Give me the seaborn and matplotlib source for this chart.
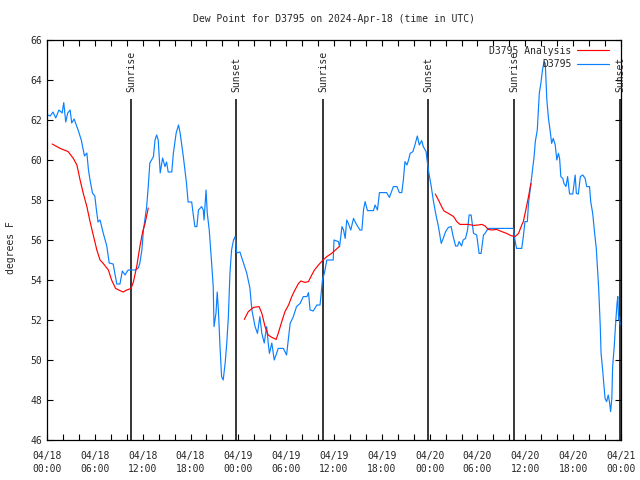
import numpy as np
import pandas as pd
import matplotlib
matplotlib.use("Agg")
import matplotlib.pyplot as plt
from matplotlib.ticker import FixedLocator, MultipleLocator
from matplotlib.lines import Line2D
import seaborn as sns

# ---------------- data (hours since 2024-04-18 00:00 UTC) ----------------
obs_hours = [0.1, 0.4, 0.75, 1.1, 1.5, 1.9, 2.1, 2.35, 2.6, 2.9, 3.1, 3.4, 3.9, 4.3, 4.7, 5.0, 5.2, 5.4, 5.7,
             6.0, 6.2, 6.4, 6.65, 7.05, 7.5, 7.8, 8.3, 8.5, 8.75, 9.15, 9.45, 9.8, 10.0, 10.2, 11.05, 11.45,
             11.65, 11.9, 12.1, 12.5, 12.7, 12.9, 13.35, 13.55, 13.75, 13.95, 14.2, 14.5, 14.8, 15.0, 15.2,
             15.65, 15.85, 16.2, 16.5, 16.7, 17.1, 17.5, 17.7, 18.15, 18.35, 18.55, 18.8, 19.0, 19.4, 19.6,
             19.7, 19.95, 20.1, 20.35, 20.65, 20.85, 20.95, 21.2, 21.35, 21.5, 21.7, 21.9, 22.1, 22.35, 22.55,
             22.75, 22.95, 23.15, 23.4, 23.6, 23.8, 24.2, 24.65, 25.05, 25.45, 25.7, 26.1, 26.4, 26.7, 26.95,
             27.25, 27.55, 27.75, 27.9, 28.2, 28.5, 28.8, 29.0, 29.65, 30.05, 30.5, 30.9, 31.3, 31.75, 32.15,
             32.6, 32.8, 33.0, 33.4, 33.85, 34.25, 34.55, 34.8, 35.1, 35.9, 36.0, 36.55, 36.7, 37.0, 37.2,
             37.4, 37.6, 37.8, 38.1, 38.45, 38.75, 39.25, 39.5, 39.7, 39.9, 40.2, 40.95, 41.15, 41.45, 41.7,
             42.6, 42.95, 43.25, 43.45, 43.9, 44.2, 44.5, 44.7, 44.9, 45.15, 45.35, 45.55, 45.9, 46.15, 46.45,
             46.7, 47.0, 47.2, 47.55, 47.7, 47.9, 48.2, 48.45, 48.75, 49.1, 49.45, 49.7, 50.0, 50.35, 50.7,
             50.95, 51.25, 51.5, 51.7, 52.0, 52.2, 52.5, 52.75, 52.95, 53.2, 53.5, 53.9, 54.2, 54.45, 54.75,
             54.95, 55.2, 55.4, 58.5, 58.7, 58.9, 59.55, 59.75, 59.95, 60.25, 60.4, 60.7, 60.95, 61.1, 61.25,
             61.5, 61.75, 61.95, 62.15, 62.35, 62.5, 62.7, 62.9, 63.1, 63.3, 63.5, 63.75, 63.95, 64.15, 64.3,
             64.45, 64.7, 64.85, 65.1, 65.3, 65.55, 65.95, 66.25, 66.4, 66.65, 66.9, 67.2, 67.5, 67.7, 68.05,
             68.2, 68.45, 68.65, 68.9, 69.05, 69.2, 69.4, 69.5, 69.7, 69.8, 70.0, 70.2, 70.4, 70.55, 70.7,
             70.85, 70.95, 71.15, 71.3, 71.5, 71.6, 71.7, 71.8, 71.9]
obs_dewpoint = [62.25, 62.2, 62.4, 62.1, 62.5, 62.35, 62.87, 61.9, 62.35, 62.5, 61.85, 62.05, 61.5, 61.0, 60.2,
                60.35, 59.5, 59.0, 58.35, 58.2, 57.5, 56.9, 57.0, 56.35, 55.7, 54.85, 54.8, 54.35, 53.8, 53.8,
                54.45, 54.25, 54.4, 54.5, 54.5, 54.6, 54.85, 55.5, 56.5, 57.67, 58.67, 59.85, 60.17, 61.0, 61.25,
                61.0, 59.35, 60.1, 59.67, 59.9, 59.4, 59.4, 60.33, 61.35, 61.75, 61.35, 60.17, 58.83, 57.9, 57.9,
                57.25, 56.67, 56.67, 57.5, 57.67, 57.5, 57.0, 58.5, 57.35, 56.5, 54.85, 53.67, 51.67, 52.35, 53.4,
                52.5, 50.67, 49.17, 49.0, 49.85, 50.85, 52.17, 54.35, 55.5, 56.0, 56.17, 55.35, 55.4, 54.85,
                54.35, 53.6, 52.5, 51.67, 51.33, 52.17, 51.33, 50.85, 51.67, 50.85, 50.33, 50.85, 50.0, 50.33,
                50.58, 50.58, 50.25, 51.83, 52.17, 52.67, 52.83, 53.17, 53.17, 53.37, 52.5, 52.45, 52.75, 52.75,
                54.0, 54.35, 55.0, 55.0, 56.0, 55.92, 55.67, 56.67, 56.5, 56.08, 57.0, 56.83, 56.5, 57.08, 56.83,
                56.5, 56.5, 57.5, 57.92, 57.47, 57.47, 57.75, 57.5, 58.37, 58.37, 58.13, 58.45, 58.67, 58.67,
                58.37, 58.37, 59.0, 59.92, 59.75, 60.0, 60.33, 60.42, 60.75, 61.2, 60.75, 60.97, 60.67, 60.42,
                59.92, 59.35, 58.67, 58.0, 57.33, 56.67, 55.83, 56.08, 56.42, 56.63, 56.67, 56.17, 55.7, 55.7,
                55.92, 55.7, 56.0, 56.08, 56.5, 57.25, 57.25, 56.33, 56.25, 55.33, 55.33, 56.25, 56.33, 56.5,
                56.58, 56.58, 56.0, 55.58, 55.58, 56.17, 56.92, 56.92, 57.83, 58.83, 59.67, 60.17, 60.92, 61.5,
                63.33, 63.83, 64.5, 64.92, 64.83, 63.0, 62.08, 61.5, 60.83, 61.08, 60.75, 60.0, 60.33, 60.08,
                59.17, 59.08, 58.83, 58.67, 59.17, 58.3, 58.3, 59.25, 58.33, 58.3, 59.17, 59.25, 59.08, 58.67,
                58.67, 57.92, 57.33, 56.5, 55.58, 54.58, 53.58, 51.67, 50.33, 49.5, 49.0, 48.08, 47.92, 48.25,
                47.92, 47.42, 48.08, 49.67, 50.67, 51.67, 52.83, 53.17, 52.0, 52.17, 51.75]

ana1_hours = [0.65, 1.65, 2.65, 3.3, 3.75, 4.15, 4.55, 5.0, 5.4, 5.8, 6.25, 6.65, 7.05, 7.7, 8.1, 8.6, 9.15,
              9.55, 10.0, 10.55, 10.85, 11.25, 11.65, 12.0, 12.3, 12.7]
ana1_dewpoint = [60.8, 60.58, 60.42, 60.08, 59.75, 59.0, 58.33, 57.67, 56.92, 56.25, 55.5, 55.0, 54.83, 54.5,
                 54.0, 53.58, 53.47, 53.4, 53.5, 53.58, 53.92, 54.67, 55.67, 56.42, 56.83, 57.6]
ana2_hours = [24.75, 25.25, 25.9, 26.6, 26.95, 27.35, 27.75, 28.2, 28.75, 29.0, 29.45, 29.85, 30.3, 30.7, 31.1,
              31.55, 31.85, 32.35, 32.8, 33.1, 33.55, 34.05, 34.55, 35.1, 35.7, 36.65]
ana2_dewpoint = [52.03, 52.42, 52.63, 52.67, 52.33, 51.67, 51.25, 51.13, 51.03, 51.33, 51.92, 52.42, 52.75,
                 53.17, 53.5, 53.83, 53.95, 53.88, 53.92, 54.17, 54.5, 54.75, 54.97, 55.17, 55.33, 55.67]
ana3_hours = [48.7, 49.1, 49.5, 49.8, 50.35, 51.0, 51.4, 51.8, 52.85, 53.5, 54.1, 54.55, 54.95, 55.35, 55.8,
              56.4, 57.05, 57.65, 58.2, 58.7, 59.15, 59.55, 59.75, 60.1, 60.4, 60.7]
ana3_dewpoint = [58.3, 58.0, 57.67, 57.45, 57.33, 57.17, 56.92, 56.78, 56.78, 56.73, 56.75, 56.78, 56.7, 56.53,
                 56.5, 56.53, 56.42, 56.33, 56.22, 56.17, 56.33, 56.75, 56.92, 57.58, 58.17, 58.83]

sun_event_hours = [10.54, 23.71, 34.63, 47.8, 58.6, 71.9]
sun_event_labels = ["Sunrise", "Sunset", "Sunrise", "Sunset", "Sunrise", "Sunset"]

xtick_hours = [0, 6, 12, 18, 24, 30, 36, 42, 48, 54, 60, 66, 72]
xtick_labels = ["04/18\n00:00", "04/18\n06:00", "04/18\n12:00", "04/18\n18:00",
                "04/19\n00:00", "04/19\n06:00", "04/19\n12:00", "04/19\n18:00",
                "04/20\n00:00", "04/20\n06:00", "04/20\n12:00", "04/20\n18:00", "04/21\n00:00"]

title = "Dew Point for D3795 on 2024-Apr-18 (time in UTC)"
obs_name = "D3795"
ana_name = "D3795 Analysis"

# ---------------- plotting ----------------
sns.set_style("ticks")
plt.rcParams["font.family"] = ["DejaVu Sans Mono", "DejaVu Sans"]
FS = 7

fig = plt.figure(figsize=(6.4, 4.8), dpi=100)
ax = fig.add_axes([47 / 640, 1 - 440 / 480, 574 / 640, 400 / 480])

BLUE = "#0a80ff"
RED = "#ff0000"

obs_df = pd.DataFrame({"hour": obs_hours, "dew": obs_dewpoint})
sns.lineplot(data=obs_df, x="hour", y="dew", ax=ax, color=BLUE, linewidth=0.85,
             estimator=None, sort=False)
for hrs, vals in [(ana1_hours, ana1_dewpoint), (ana2_hours, ana2_dewpoint), (ana3_hours, ana3_dewpoint)]:
    sns.lineplot(x=hrs, y=vals, ax=ax, color=RED, linewidth=0.85, estimator=None, sort=False)

for h, lab in zip(sun_event_hours, sun_event_labels):
    ax.vlines(h, 46, 63.05, color="black", linewidth=1.1, zorder=1)
    ax.text(h, 63.4, lab, rotation=90, ha="center", va="bottom", fontsize=FS)

ax.set_xlim(0, 72)
ax.set_ylim(46, 66)
ax.xaxis.set_major_locator(FixedLocator(xtick_hours))
ax.set_xticklabels(xtick_labels, fontsize=FS, linespacing=1.35)
ax.xaxis.set_minor_locator(MultipleLocator(2))
ax.yaxis.set_major_locator(MultipleLocator(2))
ax.tick_params(axis="y", labelsize=FS)
ax.tick_params(which="both", direction="in", top=True, right=True, length=4, width=0.8, color="black")
ax.tick_params(axis="x", pad=8)
for sp in ax.spines.values():
    sp.set_linewidth(0.9)
    sp.set_color("black")

ax.set_xlabel("")
ax.set_ylabel("degrees F", fontsize=FS)
ax.yaxis.set_label_coords(-0.054, 0.48)
ax.set_title(title, fontsize=FS, pad=13)

handles = [Line2D([], [], color=RED, linewidth=0.85), Line2D([], [], color=BLUE, linewidth=0.85)]
leg = ax.legend(handles, [ana_name, obs_name], loc="upper right", frameon=False, markerfirst=False,
                fontsize=FS, handlelength=3.2, handletextpad=0.6, labelspacing=0.35,
                borderaxespad=0.0, bbox_to_anchor=(0.985, 0.995))

fig.savefig("out.png", dpi=100)
